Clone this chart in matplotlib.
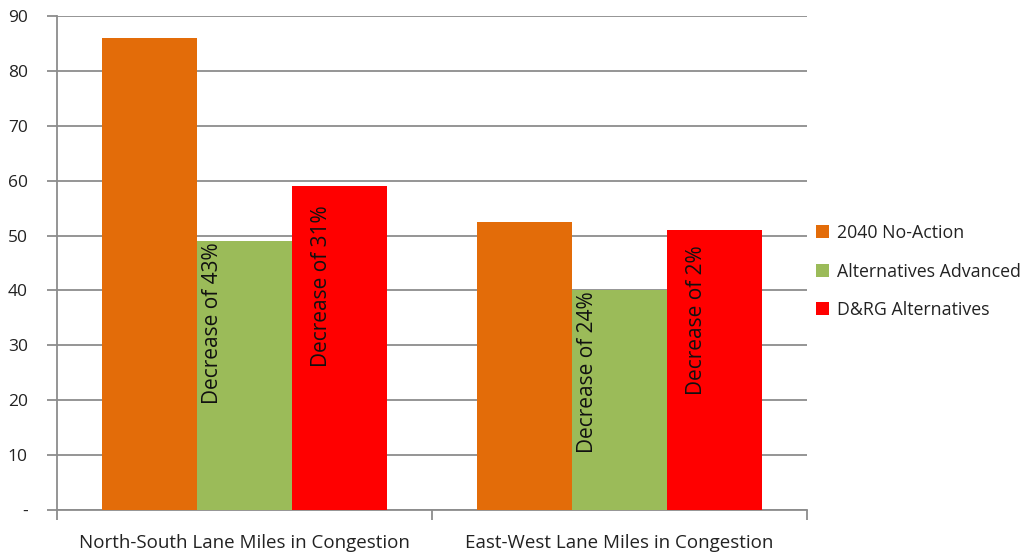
import matplotlib
matplotlib.use("Agg")
import matplotlib.pyplot as plt
import numpy as np

categories = ["North-South Lane Miles in Congestion", "East-West Lane Miles in Congestion"]
series_names = ["2040 No-Action", "Alternatives Advanced", "D&RG Alternatives"]
no_action = [86, 52.5]
alt_advanced = [49, 40]
drg_alt = [59, 51]
alt_labels = ["Decrease of 43%", "Decrease of 24%"]
drg_labels = ["Decrease of 31%", "Decrease of 2%"]
yticks = [0, 10, 20, 30, 40, 50, 60, 70, 80, 90]
ytick_labels = ["-", "10", "20", "30", "40", "50", "60", "70", "80", "90"]

colors = ["#E36C09", "#9BBB59", "#FF0000"]
font = "Open Sans"
plt.rcParams['font.family'] = [font, 'DejaVu Sans']

fig = plt.figure(figsize=(10.30, 5.53), dpi=100)
ax = fig.add_axes([57/1030, 1-510/553, 750/1030, 494/553])

x = np.arange(len(categories))
w = 0.253
series = [no_action, alt_advanced, drg_alt]
bars = []
for i, (vals, c, name) in enumerate(zip(series, colors, series_names)):
    b = ax.bar(x + (i-1)*w, vals, w, color=c, label=name, zorder=3)
    bars.append(b)

# rotated labels inside bars
tops = {(1, 0): 0.3, (2, 0): 3.5, (1, 1): 0.2, (2, 1): 2.7}
for j in range(len(categories)):
    for bi, labels, off in [(1, alt_labels, 0.04), (2, drg_labels, 0.08)]:
        rect = bars[bi][j]
        xl = rect.get_x() + off
        ax.text(xl, rect.get_height() - tops[(bi, j)], labels[j], rotation=90, ha='center', va='top',
                fontsize=15, color='#111111', zorder=4)

ax.set_xlim(-0.5, 1.5)
ax.set_ylim(0, 90)
ax.set_yticks(yticks)
ax.set_yticklabels(ytick_labels, fontsize=12.5, color='#222222')
ax.yaxis.grid(True, color='#8c8c8c', linewidth=1.3, zorder=0)
ax.set_axisbelow(True)

ax.set_xticks([-0.5, 0.5, 1.5])
ax.set_xticklabels(["", "", ""])
ax.set_xticks(x, minor=True)
ax.set_xticklabels(categories, minor=True, fontsize=13.5, color='#222222')
ax.tick_params(axis='x', which='minor', length=0, pad=17)
ax.tick_params(axis='x', which='major', length=7, color='#8c8c8c', width=1.3, direction='out')
ax.tick_params(axis='y', length=7, color='#8c8c8c', width=1.3, pad=14)

for s in ['top', 'right']:
    ax.spines[s].set_visible(False)
for s in ['left', 'bottom']:
    ax.spines[s].set_color('#8c8c8c')
    ax.spines[s].set_linewidth(1.3)

leg = fig.legend(handles=[b for b in bars], labels=series_names, loc='upper left',
                 bbox_to_anchor=(809/1030, 1-217/553), frameon=False, fontsize=12.8,
                 handlelength=0.75, handleheight=0.75, handletextpad=0.45, labelspacing=1.15,
                 borderaxespad=0)
for t in leg.get_texts():
    t.set_color('#222222')

fig.savefig("out.png", dpi=100)
